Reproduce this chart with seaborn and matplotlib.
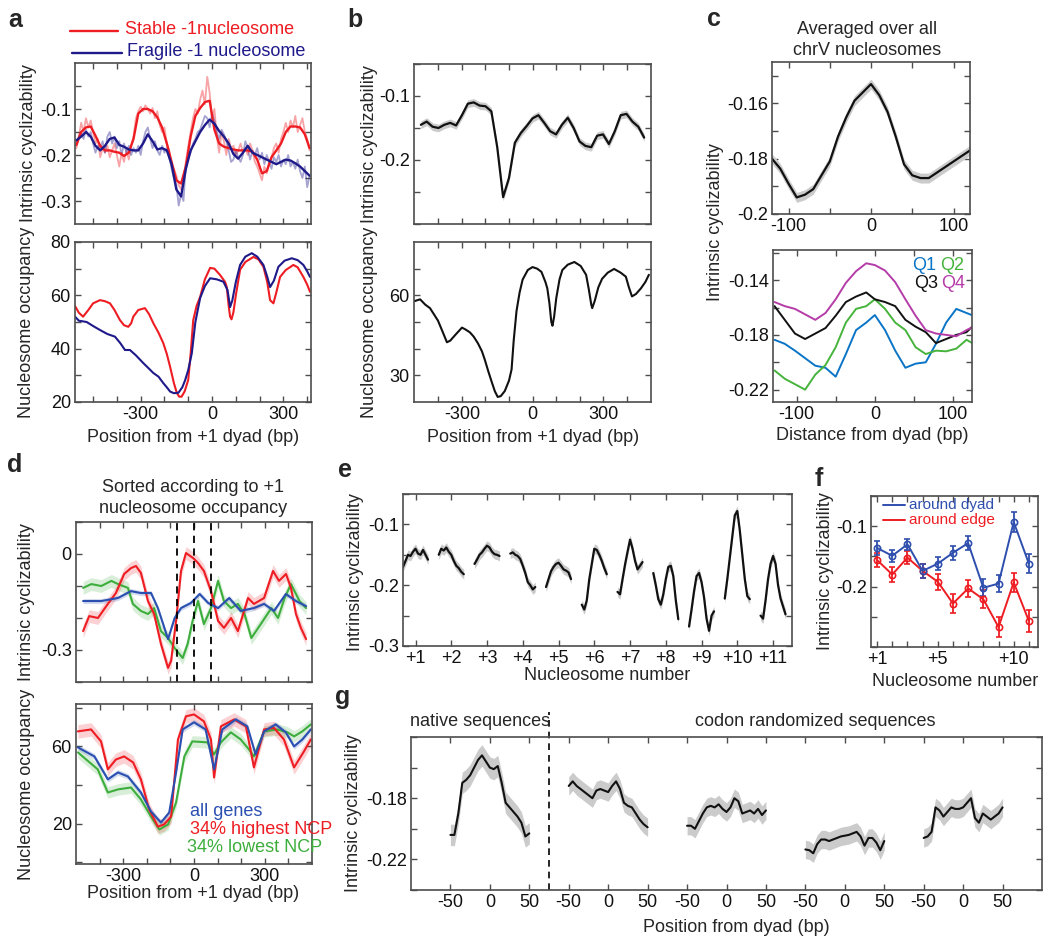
import matplotlib
matplotlib.use("Agg")
import matplotlib.pyplot as plt
from matplotlib.lines import Line2D
import numpy as np
import seaborn as sns

sns.set_theme(style="ticks")
plt.rcParams["font.family"] = ["Liberation Sans", "DejaVu Sans"]
plt.rcParams["axes.unicode_minus"] = False

W, H = 1050, 942
FS = 13
RED = "#ee1d23"
NAVY = "#1f1a8a"
BLACK = "#111111"
BAND = "#cbcbcb"
BOX = "#4d4d4d"

# ---------------- panel a ----------------
a_x = np.arange(-570, 411, 20)
a_x_fine = np.arange(-570, 411, 10)
a_red = [-0.178, -0.150, -0.140, -0.138, -0.158, -0.180, -0.190, -0.190, -0.193, -0.195,
         -0.202, -0.195, -0.165, -0.110, -0.100, -0.100, -0.105, -0.118, -0.140, -0.175,
         -0.215, -0.255, -0.262, -0.225, -0.160, -0.115, -0.098, -0.085, -0.082, -0.145,
         -0.175, -0.182, -0.185, -0.188, -0.190, -0.190, -0.190, -0.193, -0.210, -0.240,
         -0.235, -0.205, -0.190, -0.175, -0.150, -0.138, -0.138, -0.140, -0.155, -0.185]
a_blue = [-0.168, -0.160, -0.150, -0.160, -0.180, -0.190, -0.180, -0.165, -0.162, -0.178,
          -0.182, -0.188, -0.190, -0.190, -0.175, -0.155, -0.170, -0.188, -0.185, -0.190,
          -0.220, -0.275, -0.290, -0.230, -0.190, -0.170, -0.150, -0.135, -0.123, -0.132,
          -0.148, -0.160, -0.175, -0.198, -0.208, -0.195, -0.180, -0.195, -0.200, -0.205,
          -0.210, -0.215, -0.220, -0.215, -0.210, -0.212, -0.218, -0.225, -0.235, -0.245]
a_red_raw = [-0.185, -0.160, -0.130, -0.150, -0.120, -0.140, -0.125, -0.150, -0.175, -0.165,
             -0.205, -0.185, -0.195, -0.180, -0.205, -0.190, -0.175, -0.200, -0.225, -0.195,
             -0.215, -0.190, -0.210, -0.180, -0.160, -0.120, -0.105, -0.095, -0.105, -0.092,
             -0.100, -0.110, -0.098, -0.120, -0.105, -0.135, -0.150, -0.140, -0.175, -0.190,
             -0.225, -0.230, -0.245, -0.265, -0.275, -0.250, -0.215, -0.180, -0.150, -0.120,
             -0.100, -0.110, -0.080, -0.060, -0.090, -0.030, -0.065, -0.120, -0.100, -0.160,
             -0.195, -0.150, -0.170, -0.200, -0.165, -0.185, -0.180, -0.200, -0.190, -0.175,
             -0.195, -0.185, -0.200, -0.175, -0.190, -0.215, -0.225, -0.240, -0.255, -0.225,
             -0.240, -0.215, -0.205, -0.185, -0.175, -0.195, -0.165, -0.150, -0.130, -0.150,
             -0.125, -0.140, -0.115, -0.150, -0.135, -0.120, -0.150, -0.165, -0.190]
a_blue_raw = [-0.175, -0.160, -0.150, -0.165, -0.145, -0.160, -0.150, -0.175, -0.195, -0.180,
              -0.190, -0.170, -0.195, -0.160, -0.150, -0.175, -0.160, -0.185, -0.170, -0.200,
              -0.175, -0.195, -0.180, -0.200, -0.185, -0.195, -0.180, -0.200, -0.170, -0.150,
              -0.140, -0.165, -0.185, -0.170, -0.190, -0.200, -0.180, -0.195, -0.185, -0.205,
              -0.230, -0.250, -0.265, -0.310, -0.285, -0.300, -0.220, -0.205, -0.195, -0.175,
              -0.165, -0.150, -0.145, -0.130, -0.115, -0.120, -0.140, -0.110, -0.125, -0.150,
              -0.165, -0.145, -0.155, -0.170, -0.190, -0.215, -0.210, -0.190, -0.205, -0.215,
              -0.200, -0.170, -0.185, -0.210, -0.190, -0.200, -0.185, -0.210, -0.195, -0.220,
              -0.200, -0.215, -0.230, -0.205, -0.215, -0.200, -0.225, -0.210, -0.220, -0.200,
              -0.225, -0.215, -0.230, -0.210, -0.235, -0.250, -0.225, -0.270, -0.245]
a_occ_red_x = [-576, -560, -542, -520, -500, -471, -450, -429, -410, -387, -370, -352, -340, -331,
               -310, -282, -265, -247, -225, -205, -190, -176, -160, -148, -138, -128, -115, -100,
               -90, -79, -65, -50, -30, -8, 10, 34, 55, 62, 70, 76, 82, 90, 100, 118, 140, 174,
               195, 216, 232, 244, 258, 270, 286, 310, 342, 360, 384, 400, 412]
a_occ_red = [56, 53.5, 52, 54.5, 57, 58.2, 57.8, 57, 54.5, 50.7, 48.8, 48.2, 49.5, 52,
             54.5, 55.2, 53, 49.6, 46, 42.1, 38, 33.1, 27, 23.4, 22, 22, 24, 28.3,
             38, 50.7, 56, 59.4, 66, 70.3, 70, 67.6, 65, 63.1, 56, 52, 51, 53.7, 60, 69.6, 72.5, 74.4,
             73.5, 70.7, 65, 58.2, 57, 61, 66.9, 69.5, 71.4, 70.5, 66.9, 64, 61.3]
a_occ_blue_x = [-576, -560, -527, -500, -471, -440, -408, -385, -366, -345, -320, -289, -265, -247,
                -225, -205, -190, -176, -160, -141, -125, -113, -100, -85, -70, -50, -30, -8, 20,
                48, 65, 76, 85, 100, 118, 140, 167, 190, 216, 232, 244, 260, 279, 305, 335, 360,
                384, 400, 412]
a_occ_blue = [52, 50.5, 50, 48.5, 47, 45.5, 44.5, 42, 39.5, 39.5, 37.5, 34.6, 32.5, 30.9,
              29.5, 27.1, 25.5, 23.9, 23.3, 23.5, 25.5, 28.2, 32, 38.3, 50, 59, 63.5, 66.4, 66,
              65.1, 62, 55.6, 58, 65, 71.4, 74.5, 75.8, 74.5, 71.4, 67, 63.1, 65.5, 70.7, 73, 73.9, 73.2,
              71.4, 69, 66.9]

# ---------------- panel b ----------------
b_x = np.arange(-475, 476, 25)
b_cyc = [-0.145, -0.140, -0.148, -0.150, -0.145, -0.142, -0.146, -0.130, -0.112, -0.110,
         -0.115, -0.116, -0.124, -0.180, -0.258, -0.228, -0.173, -0.158, -0.147, -0.135,
         -0.130, -0.142, -0.155, -0.160, -0.145, -0.134, -0.150, -0.171, -0.178, -0.180,
         -0.162, -0.160, -0.175, -0.155, -0.130, -0.128, -0.140, -0.148, -0.165]
b_err = 0.006
b_occ_x = [-503, -478, -456, -436, -420, -402, -383, -364, -350, -330, -300, -285, -266, -250,
           -232, -215, -203, -188, -173, -160, -148, -135, -118, -100, -89, -80, -68, -55, -42,
           -20, 0, 20, 38, 55, 63, 72, 80, 85, 92, 101, 115, 127, 150, 178, 205, 228, 240, 250,
           254, 265, 280, 296, 320, 347, 375, 397, 410, 423, 440, 461, 480, 495]
b_occ = [57.8, 58.5, 56.5, 55.2, 53, 50.5, 46.5, 42.4, 43, 45, 47.9, 47.2, 46.1, 44.5,
         42, 39, 35.9, 31.5, 27.4, 24, 21.9, 22.2, 24.1, 28, 32.2, 43, 54.1, 61, 65.9,
         69.5, 70.6, 70, 68.8, 65, 62.6, 57, 50, 48.6, 52, 58.9, 66, 69.5, 71.5, 72.5, 71, 67.7, 62, 56.5,
         55.2, 58, 63, 66.2, 68.5, 69.9, 68.5, 67, 63, 59.6, 60.5, 62.6, 65, 67.7]

# ---------------- panel c ----------------
c_x = [-120, -110, -100, -90, -80, -70, -60, -50, -40, -30, -20, -10, 0,
       10, 20, 30, 40, 50, 60, 70, 80, 90, 100, 110, 120]
c_all = [-0.180, -0.1836, -0.189, -0.194, -0.193, -0.191, -0.186, -0.181, -0.172, -0.165,
         -0.159, -0.156, -0.153, -0.157, -0.163, -0.172, -0.182, -0.186, -0.187, -0.187,
         -0.185, -0.183, -0.181, -0.179, -0.177]
c_err = 0.0018
q_x = [-128, -115, -102, -89, -76, -63, -50, -37, -24, -11, 0, 13, 26, 39, 52, 65, 78, 91, 104, 117, 126]
q1 = [-0.1836, -0.1865, -0.1915, -0.197, -0.2025, -0.204, -0.2105, -0.194, -0.1765, -0.171, -0.1655,
      -0.1765, -0.1915, -0.204, -0.201, -0.200, -0.1865, -0.171, -0.161, -0.164, -0.166]
q2 = [-0.206, -0.212, -0.216, -0.220, -0.209, -0.202, -0.189, -0.171, -0.161, -0.159, -0.154,
      -0.161, -0.171, -0.1765, -0.189, -0.194, -0.1915, -0.192, -0.190, -0.1836, -0.1865]
q3 = [-0.159, -0.169, -0.179, -0.183, -0.179, -0.175, -0.166, -0.156, -0.152, -0.149, -0.154,
      -0.156, -0.159, -0.169, -0.174, -0.178, -0.186, -0.183, -0.180, -0.178, -0.173]
q4 = [-0.156, -0.159, -0.161, -0.165, -0.169, -0.164, -0.154, -0.142, -0.1335, -0.1277, -0.129,
      -0.133, -0.1415, -0.154, -0.166, -0.1765, -0.179, -0.180, -0.181, -0.1765, -0.174]
q_names = ["Q1", "Q2", "Q3", "Q4"]
q_colors = ["#0a74c6", "#46b43c", "#111111", "#b53ca8"]

# ---------------- panel d ----------------
d_red_x = [-470, -444, -407, -365, -331, -296, -267, -246, -225, -195, -169, -140, -110, -97, -76,
           -55, -34, -4, 17, 42, 72, 102, 127, 157, 186, 229, 254, 297, 335, 360, 390, 411, 432,
           453, 475]
d_red = [-0.241, -0.194, -0.200, -0.156, -0.122, -0.0625, -0.044, -0.0375, -0.059, -0.147, -0.1875,
         -0.281, -0.356, -0.334, -0.209, -0.053, 0.003, -0.0125, -0.028, -0.053, -0.116, -0.209,
         -0.231, -0.200, -0.241, -0.1375, -0.156, -0.1375, -0.053, -0.084, -0.0625, -0.106,
         -0.1875, -0.231, -0.266]
d_green_x = [-470, -435, -393, -350, -322, -280, -259, -225, -195, -169, -140, -110, -82, -48, -27,
             -6, 17, 42, 72, 102, 127, 157, 186, 214, 243, 283, 328, 356, 384, 411, 447, 475]
d_green = [-0.106, -0.094, -0.100, -0.084, -0.094, -0.106, -0.156, -0.178, -0.1875, -0.169, -0.241,
           -0.2625, -0.294, -0.325, -0.281, -0.209, -0.147, -0.219, -0.169, -0.084, -0.147, -0.169,
           -0.156, -0.1875, -0.2625, -0.219, -0.169, -0.200, -0.1375, -0.094, -0.147, -0.169]
d_blue_x = [-470, -393, -322, -267, -225, -182, -153, -110, -82, -55, -13, 24, 60, 102, 149, 198,
            254, 297, 339, 389, 432, 475]
d_blue = [-0.147, -0.147, -0.1375, -0.116, -0.122, -0.122, -0.169, -0.266, -0.200, -0.169, -0.153,
          -0.125, -0.153, -0.169, -0.1375, -0.178, -0.169, -0.156, -0.178, -0.125, -0.147, -0.163]
d_occ_red_x = [-492, -436, -394, -365, -331, -296, -258, -225, -190, -153, -127, -97, -68, -34, 0,
               42, 72, 85, 114, 170, 220, 254, 297, 339, 381, 424, 466, 495]
d_occ_red = [67.8, 68.8, 62.6, 48.1, 53.2, 54.8, 51.7, 42.9, 27.3, 18.4, 19.5, 23.6, 63.6, 75.6,
             76.6, 73.0, 63.6, 43.9, 70.4, 74.0, 70.4, 49.1, 68.8, 69.6, 63.6, 49.1, 57.4, 63.6]
d_occ_blue_x = [-492, -422, -365, -322, -280, -225, -182, -140, -105, -76, -48, 0, 49, 85, 120, 177,
                226, 261, 297, 346, 389, 424, 459, 495]
d_occ_blue = [59.5, 54.8, 42.9, 46.5, 44.4, 36.1, 26.2, 20.5, 25.7, 46.5, 68.8, 72.5, 68.8, 48.1,
              68.8, 74.0, 70.4, 55.8, 67.8, 71.4, 67.3, 60.0, 63.6, 68.8]
d_occ_green_x = [-492, -408, -365, -322, -267, -225, -182, -147, -110, -76, -41, -7, 57, 85, 114,
                 156, 198, 233, 254, 297, 353, 396, 424, 459, 495]
d_occ_green = [56.9, 48.1, 36.1, 37.7, 38.7, 32.5, 23.6, 16.9, 19.5, 30.9, 54.8, 62.6, 62.1, 55.8,
               62.1, 67.3, 63.6, 58.4, 54.8, 67.8, 68.8, 67.3, 65.2, 67.8, 71.4]
d_marks = [-73, 0, 73]
d_groups = ["all genes", "34% highest NCP", "34% lowest NCP"]
d_colors = ["#2a4fb0", RED, "#3dae3d"]

# ---------------- panel e ----------------
e_nuc = list(range(1, 12))
e_offsets = [-0.35, -0.28, -0.21, -0.14, -0.07, 0.0, 0.07, 0.14, 0.21, 0.28, 0.35]
e_vals = [
    [-0.170, -0.160, -0.150, -0.152, -0.145, -0.140, -0.148, -0.150, -0.142, -0.150, -0.158],
    [-0.150, -0.140, -0.143, -0.138, -0.145, -0.150, -0.160, -0.168, -0.172, -0.178, -0.182],
    [-0.165, -0.158, -0.150, -0.146, -0.140, -0.135, -0.138, -0.145, -0.149, -0.150, -0.152],
    [-0.148, -0.146, -0.150, -0.152, -0.157, -0.168, -0.180, -0.195, -0.200, -0.207, -0.203],
    [-0.203, -0.190, -0.177, -0.170, -0.165, -0.163, -0.168, -0.174, -0.176, -0.179, -0.190],
    [-0.232, -0.240, -0.225, -0.190, -0.165, -0.140, -0.142, -0.150, -0.160, -0.172, -0.182],
    [-0.211, -0.215, -0.190, -0.166, -0.145, -0.125, -0.140, -0.160, -0.174, -0.168, -0.162],
    [-0.180, -0.200, -0.223, -0.232, -0.215, -0.190, -0.170, -0.168, -0.185, -0.225, -0.256],
    [-0.268, -0.240, -0.210, -0.185, -0.180, -0.195, -0.220, -0.255, -0.275, -0.250, -0.243],
    [-0.222, -0.190, -0.155, -0.120, -0.085, -0.078, -0.110, -0.150, -0.190, -0.218, -0.223],
    [-0.250, -0.255, -0.225, -0.190, -0.165, -0.152, -0.165, -0.200, -0.222, -0.235, -0.248],
]
e_err = 0.008

# ---------------- panel f ----------------
f_nuc = list(range(1, 12))
f_dyad = [-0.136, -0.149, -0.130, -0.174, -0.162, -0.144, -0.128, -0.202, -0.195, -0.093, -0.162]
f_dyad_err = [0.011, 0.010, 0.009, 0.012, 0.011, 0.012, 0.011, 0.014, 0.014, 0.017, 0.016]
f_edge = [-0.156, -0.180, -0.152, -0.174, -0.192, -0.228, -0.203, -0.221, -0.267, -0.193, -0.257]
f_edge_err = [0.011, 0.013, 0.011, 0.012, 0.013, 0.015, 0.014, 0.015, 0.017, 0.016, 0.018]

# ---------------- panel g ----------------
g_centers = [0, 150, 300, 450, 600]
g_offsets = list(range(-50, 51, 5))
g_vals = [
    [-0.204, -0.204, -0.190, -0.170, -0.168, -0.165, -0.160, -0.155, -0.152, -0.156, -0.160,
     -0.161, -0.159, -0.170, -0.183, -0.186, -0.189, -0.192, -0.196, -0.205, -0.203],
    [-0.172, -0.169, -0.172, -0.174, -0.176, -0.178, -0.180, -0.175, -0.174, -0.175, -0.176,
     -0.172, -0.169, -0.174, -0.183, -0.185, -0.186, -0.190, -0.194, -0.197, -0.199],
    [-0.198, -0.198, -0.200, -0.195, -0.190, -0.186, -0.185, -0.186, -0.184, -0.187, -0.189,
     -0.186, -0.180, -0.182, -0.190, -0.189, -0.188, -0.190, -0.187, -0.191, -0.188],
    [-0.2135, -0.214, -0.216, -0.210, -0.207, -0.207, -0.208, -0.207, -0.206, -0.205, -0.2045,
     -0.204, -0.203, -0.202, -0.205, -0.211, -0.206, -0.206, -0.209, -0.214, -0.208],
    [-0.206, -0.205, -0.202, -0.186, -0.188, -0.192, -0.189, -0.186, -0.187, -0.187, -0.186,
     -0.183, -0.180, -0.193, -0.196, -0.190, -0.192, -0.194, -0.192, -0.190, -0.186],
]
g_err = [0.007, 0.006, 0.006, 0.006, 0.006]

fig = plt.figure(figsize=(W / 100, H / 100), dpi=100)


def box(x0, y0, x1, y1):
    return [x0 / W, 1 - y1 / H, (x1 - x0) / W, (y1 - y0) / H]


def frame(ax, xlim, ylim, xticks, xlabels, yticks, ylabels):
    ax.set_xlim(*xlim)
    ax.set_ylim(*ylim)
    ax.set_xticks(xticks)
    ax.set_xticklabels(xlabels)
    ax.set_yticks(yticks)
    ax.set_yticklabels(ylabels)
    ax.set_xlabel("")
    ax.set_ylabel("")
    ax.tick_params(direction="in", top=True, right=True, length=4, width=1,
                   color=BOX, labelsize=FS, pad=3, labelcolor="#111111")
    for s in ax.spines.values():
        s.set_color(BOX)
        s.set_linewidth(1.2)


def line(ax, x, y, color, lw=1.5, alpha=1.0):
    sns.lineplot(x=x, y=y, ax=ax, color=color, linewidth=lw, alpha=alpha,
                 estimator=None, sort=False)


def band(ax, x, y, err, color=BAND, alpha=1.0):
    y = np.asarray(y)
    ax.fill_between(x, y - err, y + err, color=color, alpha=alpha, lw=0)


pos_ticks = list(range(-500, 401, 100))
pos_labels = ["-300" if t == -300 else "0" if t == 0 else "300" if t == 300 else "" for t in pos_ticks]
blank = [""] * len(pos_ticks)

# a
ax = fig.add_axes(box(75, 63, 311, 224))
line(ax, a_x_fine, a_red_raw, RED, 1.3, 0.4)
line(ax, a_x_fine, a_blue_raw, NAVY, 1.3, 0.4)
line(ax, a_x, a_red, RED, 1.7)
line(ax, a_x, a_blue, NAVY, 1.7)
frame(ax, (-576, 416), (-0.35, 0.0), pos_ticks, blank,
      [-0.3, -0.25, -0.2, -0.15, -0.1, -0.05], ["-0.3", "", "-0.2", "", "-0.1", ""])

ax = fig.add_axes(box(75, 242, 311, 402))
line(ax, a_occ_red_x, a_occ_red, RED, 1.5)
line(ax, a_occ_blue_x, a_occ_blue, NAVY, 1.5)
frame(ax, (-576, 416), (20, 80), pos_ticks, pos_labels,
      [20, 30, 40, 50, 60, 70, 80], ["20", "", "40", "", "60", "", "80"])

# b
b_ticks = list(range(-400, 401, 100))
b_labels = ["-300" if t == -300 else "0" if t == 0 else "300" if t == 300 else "" for t in b_ticks]
ax = fig.add_axes(box(414, 64, 651, 224))
band(ax, b_x, b_cyc, b_err)
line(ax, b_x, b_cyc, BLACK, 1.6)
frame(ax, (-504, 504), (-0.3, -0.05), b_ticks, [""] * len(b_ticks),
      [-0.3, -0.25, -0.2, -0.15, -0.1, -0.05], ["", "", "-0.2", "", "-0.1", ""])

ax = fig.add_axes(box(414, 242, 651, 402))
line(ax, b_occ_x, b_occ, BLACK, 1.5)
frame(ax, (-504, 504), (20, 80), b_ticks, b_labels,
      [30, 40, 50, 60, 70], ["30", "", "", "60", ""])

# c
ax = fig.add_axes(box(772, 62, 970, 214))
band(ax, c_x, c_all, c_err)
line(ax, c_x, c_all, BLACK, 1.6)
frame(ax, (-120, 120), (-0.2, -0.145), [-100, -50, 0, 50, 100], ["-100", "", "0", "", "100"],
      [-0.2, -0.19, -0.18, -0.17, -0.16, -0.15], ["-0.2", "", "-0.18", "", "-0.16", ""])

ax = fig.add_axes(box(773, 250, 972, 402))
for vals, col in zip([q1, q2, q3, q4], q_colors):
    line(ax, q_x, vals, col, 1.4)
frame(ax, (-130, 124), (-0.229, -0.118), [-100, -50, 0, 50, 100], ["-100", "", "0", "", "100"],
      [-0.22, -0.20, -0.18, -0.16, -0.14, -0.12], ["-0.22", "", "-0.18", "", "-0.14", ""])

# d
d_ticks = list(range(-400, 401, 100))
d_labels = ["-300" if t == -300 else "0" if t == 0 else "300" if t == 300 else "" for t in d_ticks]
ax = fig.add_axes(box(76, 522, 312, 682))
band(ax, d_green_x, d_green, 0.02, d_colors[2], 0.2)
band(ax, d_red_x, d_red, 0.02, d_colors[1], 0.2)
band(ax, d_blue_x, d_blue, 0.008, d_colors[0], 0.2)
line(ax, d_green_x, d_green, d_colors[2], 1.5)
line(ax, d_red_x, d_red, d_colors[1], 1.5)
line(ax, d_blue_x, d_blue, d_colors[0], 1.5)
for m in d_marks:
    ax.axvline(m, color="black", lw=1.3, ls=(0, (4, 3)))
frame(ax, (-500, 500), (-0.4, 0.1), d_ticks, [""] * len(d_ticks),
      [-0.4, -0.3, -0.2, -0.1, 0.0, 0.1], ["", "-0.3", "", "", "0", ""])

ax = fig.add_axes(box(76, 704, 312, 864))
band(ax, d_occ_green_x, d_occ_green, 3.0, d_colors[2], 0.2)
band(ax, d_occ_red_x, d_occ_red, 3.5, d_colors[1], 0.2)
band(ax, d_occ_blue_x, d_occ_blue, 1.5, d_colors[0], 0.2)
line(ax, d_occ_green_x, d_occ_green, d_colors[2], 1.5)
line(ax, d_occ_red_x, d_occ_red, d_colors[1], 1.5)
line(ax, d_occ_blue_x, d_occ_blue, d_colors[0], 1.5)
frame(ax, (-500, 500), (-1, 82), d_ticks, d_labels,
      [0, 20, 40, 60, 80], ["", "20", "", "60", ""])

# e
ax = fig.add_axes(box(403, 494, 792, 646))
for n, vals in zip(e_nuc, e_vals):
    xs = [n + o for o in e_offsets]
    band(ax, xs, vals, e_err)
    line(ax, xs, vals, BLACK, 1.6)
frame(ax, (0.65, 11.53), (-0.3, -0.05), e_nuc, ["+%d" % n for n in e_nuc],
      [-0.3, -0.25, -0.2, -0.15, -0.1, -0.05], ["-0.3", "", "-0.2", "", "-0.1", ""])

# f
ax = fig.add_axes(box(871, 496, 1038, 647))
for vals, errs, col in [(f_edge, f_edge_err, RED), (f_dyad, f_dyad_err, "#2f4fae")]:
    ax.errorbar(f_nuc, vals, yerr=errs, color=col, lw=1.4, marker="o", ms=4.5,
                mfc="none", mew=1.2, capsize=2.5, elinewidth=1.3)
frame(ax, (0.6, 11.6), (-0.3, -0.05), f_nuc,
      ["+1" if n == 1 else "+5" if n == 5 else "+10" if n == 10 else "" for n in f_nuc],
      [-0.3, -0.25, -0.2, -0.15, -0.1, -0.05], ["", "", "-0.2", "", "-0.1", ""])

# g
ax = fig.add_axes(box(411, 737, 1042, 890))
for c, vals, err in zip(g_centers, g_vals, g_err):
    xs = [c + o for o in g_offsets]
    band(ax, xs, vals, err)
    line(ax, xs, vals, BLACK, 1.5)
ax.axvline(75, ymin=0, ymax=1.165, clip_on=False, color="black", lw=1.2, ls=(0, (4, 3)))
g_ticks = list(range(-50, 651, 50))
frame(ax, (-100, 700), (-0.24, -0.14), g_ticks, ["-50", "0", "50"] * 5,
      [-0.24, -0.22, -0.20, -0.18, -0.16, -0.14], ["", "-0.22", "", "-0.18", "", ""])

# text overlay
ov = fig.add_axes([0, 0, 1, 1])
ov.set_xlim(0, W)
ov.set_ylim(H, 0)
ov.axis("off")


def txt(x, y, s, **kw):
    kw.setdefault("fontsize", FS)
    kw.setdefault("ha", "center")
    kw.setdefault("va", "center")
    ov.text(x, y, s, **kw)


for s, x, y in [("a", 15, 20), ("b", 355, 20), ("c", 714, 19), ("d", 15, 465),
                ("e", 345, 470), ("f", 819, 479), ("g", 343, 697)]:
    txt(x, y, s, fontsize=18, fontweight="bold")

for s, x, y in [("Intrinsic cyclizability", 29, 143), ("Nucleosome occupancy", 27, 322),
                ("Intrinsic cyclizability", 370, 144), ("Nucleosome occupancy", 370, 322),
                ("Intrinsic cyclizability", 716, 222), ("Intrinsic cyclizability", 27, 602),
                ("Nucleosome occupancy", 27, 784), ("Intrinsic cyclizability", 355, 572),
                ("Intrinsic cyclizability", 825, 571), ("Intrinsic cyclizability", 353, 813)]:
    txt(x, y, s, rotation=90)

for s, x, y in [("Position from +1 dyad (bp)", 193, 437), ("Position from +1 dyad (bp)", 533, 437),
                ("Distance from dyad (bp)", 872, 436), ("Position from +1 dyad (bp)", 193, 893),
                ("Nucleosome number", 607, 675), ("Nucleosome number", 955, 682),
                ("Position from dyad (bp)", 736, 927)]:
    txt(x, y, s)

txt(867, 40, "Averaged over all\nchrV nucleosomes", linespacing=1.35)
txt(193, 498, "Sorted according to +1\nnucleosome occupancy", linespacing=1.35)
txt(480, 722, "native sequences")
txt(815, 722, "codon randomized sequences")

# legends
ov.add_line(Line2D([70, 118], [31, 31], color=RED, lw=1.7))
txt(125, 30, "Stable -1nucleosome", color=RED, ha="left")
ov.add_line(Line2D([72, 122], [53, 53], color=NAVY, lw=1.7))
txt(127, 52, "Fragile -1 nucleosome", color=NAVY, ha="left")

for s, col, x, y in zip(q_names, q_colors, [924, 952, 926, 953], [265, 265, 284, 284]):
    txt(x, y, s, color=col)

for s, col, x, y in zip(d_groups, d_colors, [190, 190, 187], [812, 830, 848]):
    txt(x, y, s, color=col, ha="left")

ov.add_line(Line2D([883, 905], [505, 505], color="#2f4fae", lw=1.4))
txt(909, 505, "around dyad", color="#2f4fae", ha="left", fontsize=11)
ov.add_line(Line2D([883, 905], [520, 520], color=RED, lw=1.4))
txt(909, 520, "around edge", color=RED, ha="left", fontsize=11)

fig.savefig("out.png", dpi=100)
